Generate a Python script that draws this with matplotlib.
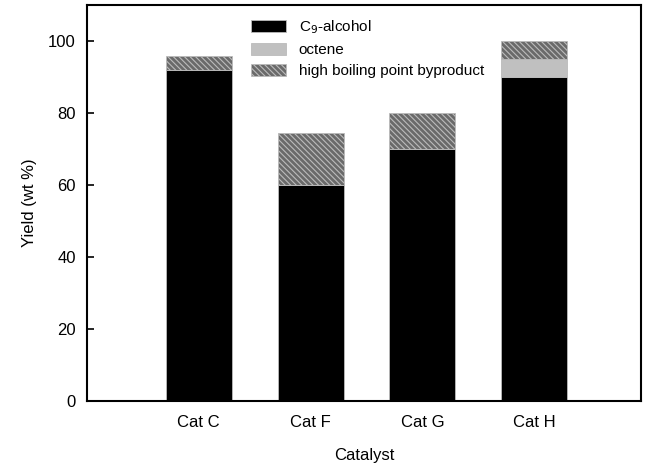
import numpy as np
import matplotlib.pyplot as plt

plt.rcParams['font.family'] = ['Liberation Sans', 'DejaVu Sans']
plt.rcParams['hatch.color'] = '#c8c8c8'
plt.rcParams['hatch.linewidth'] = 0.8

# data
catalysts = ['Cat C', 'Cat F', 'Cat G', 'Cat H']
alcohol = [92, 60, 70, 90]
octene = [0, 0, 0, 5]
byproduct = [4, 14.5, 10, 5]

x = np.arange(1, len(catalysts) + 1)
alcohol = np.array(alcohol)
octene = np.array(octene)
byproduct = np.array(byproduct)

fig = plt.figure(figsize=(6.56, 4.68), dpi=100)
ax = fig.add_axes([0.1326, 0.143, 0.8445, 0.846])

w = 0.59
ax.bar(x, alcohol, w, color='black', edgecolor='#bbbbbb', linewidth=0.6,
       label='C$_9$-alcohol')
ax.bar(x, octene, w, bottom=alcohol, color='#c0c0c0', edgecolor='#bbbbbb',
       linewidth=0.6, label='octene')
ax.bar(x, byproduct, w, bottom=alcohol + octene, color='#6a6a6a',
       edgecolor='#bbbbbb', linewidth=0.6, hatch='\\' * 6,
       label='high boiling point byproduct')

ax.set_xlim(0.0, 4.955)
ax.set_ylim(0, 110)
ax.set_yticks([0, 20, 40, 60, 80, 100])
ax.set_xticks(x)
ax.set_xticklabels(catalysts)
ax.tick_params(axis='y', direction='in', length=5, width=1.2, labelsize=12, pad=8)
ax.tick_params(axis='x', length=0, labelsize=12, pad=10)
for s in ax.spines.values():
    s.set_linewidth(1.5)

ax.set_xlabel('Catalyst', fontsize=12, labelpad=13)
ax.set_ylabel('Yield (wt %)', fontsize=12, labelpad=8)

ax.legend(loc='upper left', bbox_to_anchor=(0.28, 0.99), frameon=False,
          fontsize=11, handlelength=2.3, handleheight=0.8, labelspacing=0.45,
          handletextpad=0.8, borderaxespad=0.2)

fig.savefig('out.png', dpi=100)
